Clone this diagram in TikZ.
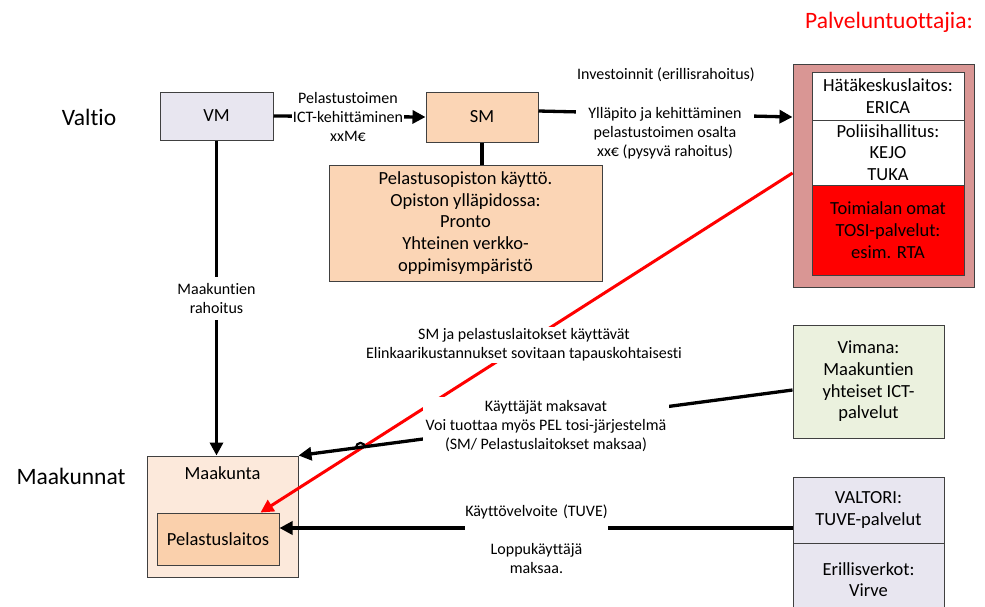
\documentclass[tikz,border=0pt]{standalone}
\usepackage{fontspec}
\setmainfont[Ligatures={NoCommon}]{Carlito}
\usetikzlibrary{arrows.meta,calc}
\definecolor{lav}{HTML}{E8E6F0}
\definecolor{peach}{HTML}{FBD5B5}
\definecolor{lightpeach}{HTML}{FCE9DB}
\definecolor{pelfill}{HTML}{FAD0AC}
\definecolor{rosy}{HTML}{D99694}
\definecolor{vgreen}{HTML}{EBF1DE}
\definecolor{edge}{HTML}{404040}
\newcommand\dgBig{\fontsize{23.5}{28}\selectfont}
\newcommand\dgBox{\fontsize{18.5}{21.7}\selectfont}
\newcommand\dgLbl{\fontsize{16}{19}\selectfont}
\begin{document}
\begin{tikzpicture}[x=1pt,y=-1pt,
 box/.style={draw=edge,line width=1pt,align=center,inner sep=0pt,font=\dgBox},
 lbl/.style={align=center,font=\dgLbl,inner sep=1pt},
 lblw/.style={lbl,fill=white},
 head/.style={font=\dgBig,inner sep=0pt},
 conn/.style={line width=3.3pt,-{Triangle[length=13pt,width=13pt]}},
 plain/.style={line width=3.3pt},
 redconn/.style={red,line width=3pt,-{Triangle[length=13pt,width=13pt]}}]
\clip (0,0) rectangle (985,606);
\fill[white] (0,0) rectangle (985,606);
% headings
\node[head,text=red] (prov) at (889,22) {Palveluntuottajia:};
\node[head] (valtio) at (89,117) {Valtio};
\node[head] (maakunnat) at (71,476) {Maakunnat};
% boxes
\node[box,fill=lav,minimum width=113pt,minimum height=48pt] (vm) at (216.5,116) {VM};
\node[box,fill=peach,minimum width=112pt,minimum height=50pt] (sm) at (482,117) {SM};
\node[box,fill=peach,minimum width=273pt,minimum height=116pt] (opisto) at (465.5,223) {Pelastusopiston käyttö.\\Opiston ylläpidossa:\\Pronto\\Yhteinen verkko-\\oppimisympäristö};
\node[box,fill=rosy,minimum width=181pt,minimum height=223pt] (outer) at (883.5,175.5) {};
\node[box,fill=white,minimum width=152pt,minimum height=48pt] (hatake) at (888,96) {Hätäkeskuslaitos:\\ERICA};
\node[box,fill=white,minimum width=152pt,minimum height=65pt] (poliisi) at (888,152.5) {Poliisihallitus:\\KEJO\\TUKA};
\node[box,fill=red,minimum width=152pt,minimum height=90pt] (tosi) at (888,230) {Toimialan omat\\TOSI-palvelut:\\esim. RTA};
\node[box,fill=vgreen,minimum width=151pt,minimum height=113pt] (vimana) at (868.5,381.5) {Vimana:\\Maakuntien\\yhteiset ICT-\\palvelut};
\node[box,fill=lightpeach,minimum width=151pt,minimum height=121pt] (maakunta) at (222.5,516.5) {};
\node[font=\dgBox] (maakuntatxt) at (222.5,473) {Maakunta};
\node[box,fill=pelfill,minimum width=122pt,minimum height=52pt] (pel) at (218,539) {Pelastuslaitos};
\node[box,fill=lav,minimum width=151pt,minimum height=66pt] (valtori) at (868.5,510) {VALTORI:\\TUVE-palvelut};
\node[box,fill=lav,minimum width=151pt,minimum height=73pt] (erillis) at (868.5,579.5) {Erillisverkot:\\Virve};
% connectors
\draw[conn] (vm.east) -- (sm.west);
\draw[conn] ($(sm.east)+(0,-6)$) -- ($(outer.west)+(0,-58.5)$);
\draw[plain] (sm.south) -- (sm.south |- opisto.north);
\draw[conn] (vm.south) -- (vm.south |- maakunta.north);
\draw[redconn] ($(outer.west)+(0,-2.5)$) -- ($(pel.north east)+(-19,0)$);
\draw[conn] ($(vimana.west)+(0,8.5)$) -- (maakunta.north east);
% small hop of the black line over the red one
\coordinate (hop) at (360.5,448);
\draw[line width=2.2pt] ($(hop)+(4.5,-0.6)$) arc[start angle=0,end angle=-180,radius=4.5];
\draw[conn] ($(valtori.west)+(0,18)$) -- ($(pel.east)+(0,-11)$);
% labels
\node[lblw,inner xsep=1pt] (l1) at (348,116.5) {Pelastustoimen\\ICT-kehittäminen\\xxM€};
\node[lblw,inner xsep=12pt] (l2) at (665,133.5) {Ylläpito ja kehittäminen\\pelastustoimen osalta\\xx€ (pysyvä rahoitus)};
\node[lbl] (l3) at (666,75) {Investoinnit (erillisrahoitus)};
\node[lblw,inner ysep=6pt] (l4) at (216.5,298.5) {Maakuntien\\rahoitus};
\node[lblw,inner sep=3pt] (l5) at (546,426) {Käyttäjät maksavat\\Voi tuottaa myös PEL tosi-järjestelmä\\(SM/ Pelastuslaitokset maksaa)};
\node[lblw,inner sep=2pt] (l6) at (524,345) {SM ja pelastuslaitokset käyttävät\\Elinkaarikustannukset sovitaan tapauskohtaisesti};
\node[lblw,text width=143pt,inner xsep=0pt] (l7) at (536.5,539.5) {Käyttövelvoite (TUVE)\\[19pt]Loppukäyttäjä\\maksaa.};
\end{tikzpicture}
\end{document}
